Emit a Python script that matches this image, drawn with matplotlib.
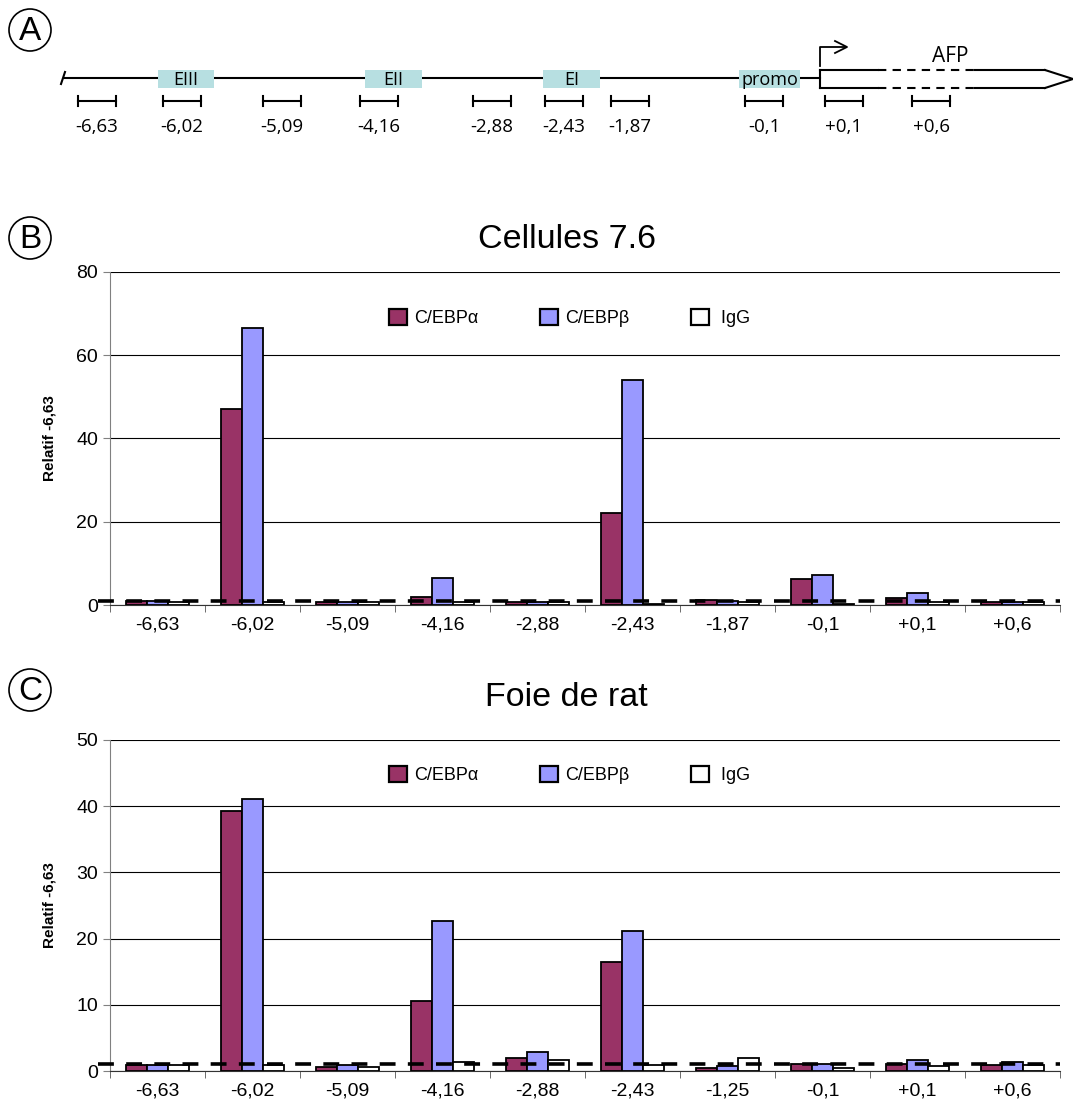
import numpy as np
import matplotlib.pyplot as plt
from matplotlib.patches import Rectangle, Circle, Patch

# ---- data ----
cats_b = ["-6,63", "-6,02", "-5,09", "-4,16", "-2,88", "-2,43", "-1,87", "-0,1", "+0,1", "+0,6"]
alpha_b = [0.9, 47.0, 0.8, 1.9, 0.8, 22.0, 1.2, 6.3, 1.7, 0.7]
beta_b = [1.0, 66.6, 0.8, 6.4, 0.8, 54.1, 1.0, 7.2, 2.9, 0.8]
igg_b = [0.8, 0.7, 0.8, 0.7, 0.8, 0.3, 0.8, 0.3, 0.8, 0.8]

cats_c = ["-6,63", "-6,02", "-5,09", "-4,16", "-2,88", "-2,43", "-1,25", "-0,1", "+0,1", "+0,6"]
alpha_c = [0.9, 39.3, 0.6, 10.5, 2.0, 16.5, 0.5, 1.1, 1.0, 0.9]
beta_c = [0.9, 41.1, 0.9, 22.6, 2.8, 21.2, 0.8, 1.0, 1.6, 1.3]
igg_c = [0.9, 0.9, 0.6, 1.3, 1.7, 0.9, 1.9, 0.5, 0.7, 0.9]

# schematic (panel A), in pixel coordinates of the figure
amplicon_labels = ["-6,63", "-6,02", "-5,09", "-4,16", "-2,88", "-2,43", "-1,87", "-0,1", "+0,1", "+0,6"]
amplicon_left = [78, 163, 263, 360, 473, 545, 611, 745, 825, 912]
elem_labels = ["EIII", "EII", "EI", "promo"]
elem_left = [158, 365, 543, 739]
elem_right = [214, 422, 600, 800]

COL_A = "#993366"
COL_B = "#9999ff"
COL_I = "#ffffff"
W, H = 1073, 1108

fig = plt.figure(figsize=(W / 100, H / 100), dpi=100)
bg = fig.add_axes([0, 0, 1, 1])
bg.set_xlim(0, W)
bg.set_ylim(H, 0)
bg.axis("off")

# circled letters
for letter, cy in [("A", 30), ("B", 238), ("C", 690)]:
    bg.add_patch(Circle((30, cy), 21, fill=False, lw=1.2, ec="black"))
    bg.text(30, cy + 1, letter, ha="center", va="center", fontsize=24,
            family="Liberation Sans")

# ---- panel A: gene map ----
sfont = "Open Sans"
bg.plot([64, 820], [78, 78], color="black", lw=1.5)
bg.plot([61, 65], [84, 72], color="black", lw=1.5)
for lab, xl, xr in zip(elem_labels, elem_left, elem_right):
    bg.add_patch(Rectangle((xl, 70), xr - xl, 18, fc="#b7dfe1", ec="none", zorder=3))
    bg.text((xl + xr) / 2, 80, lab, ha="center", va="center", fontsize=13,
            family=sfont, zorder=4)
# gene body
bg.plot([820, 820], [70, 88], color="black", lw=1.5)
for yy in (70, 88):
    bg.plot([820, 878], [yy, yy], color="black", lw=1.5)
    bg.plot([878, 975], [yy, yy], color="black", lw=1.5, ls=(0, (4, 3)))
    bg.plot([975, 1045], [yy, yy], color="black", lw=1.5)
bg.plot([1045, 1073, 1045], [70, 79, 88], color="black", lw=1.5)
bg.text(950, 56, "AFP", ha="center", va="center", fontsize=15, family=sfont)
# transcription start
bg.plot([820, 820, 846], [66, 47, 47], color="black", lw=1.3)
bg.plot([835, 847, 835], [41, 47, 53], color="black", lw=1.3)
for lab, xl in zip(amplicon_labels, amplicon_left):
    bg.plot([xl, xl + 38], [101, 101], color="black", lw=1.5)
    bg.plot([xl, xl], [96, 106], color="black", lw=1.5)
    bg.plot([xl + 38, xl + 38], [96, 106], color="black", lw=1.5)
    bg.text(xl + 19, 127, lab, ha="center", va="center", fontsize=13.5, family=sfont)


def bar_panel(rect, cats, a, b, i, ymax, step, title, title_y, leg_y):
    ax = fig.add_axes(rect)
    x = np.arange(len(cats))
    w = 0.22
    for off, vals, col in [(-w, a, COL_A), (0, b, COL_B), (w, i, COL_I)]:
        ax.bar(x + off, vals, w, color=col, edgecolor="black", linewidth=1.3, zorder=3)
    ax.axhline(1, color="black", lw=2.6, ls=(0, (4.4, 3.4)), zorder=5,
               xmin=-0.013, xmax=1.0, clip_on=False)
    ax.set_xlim(-0.5, len(cats) - 0.5)
    ax.set_ylim(0, ymax)
    ax.set_yticks(np.arange(0, ymax + 0.1, step))
    ax.set_xticks(x)
    ax.set_xticklabels(cats, family="Liberation Sans", fontsize=14)
    ax.set_xticks(np.arange(-0.5, len(cats)), minor=True)
    ax.tick_params(axis="x", which="major", length=0, pad=8)
    ax.tick_params(axis="x", which="minor", length=5, color="#555555")
    ax.tick_params(axis="y", length=5, color="#808080", labelsize=14)
    for t in ax.get_yticklabels():
        t.set_family("Liberation Sans")
    ax.yaxis.grid(True, color="black", lw=0.8)
    ax.set_axisbelow(True)
    for s in ("top", "right"):
        ax.spines[s].set_visible(False)
    ax.spines["left"].set_color("#808080")
    ax.spines["bottom"].set_color("#333333")
    ax.set_ylabel("Relatif -6,63", fontsize=11, fontweight="bold",
                  family="Liberation Sans", labelpad=14)
    fig.text(0.528, title_y, title, ha="center", va="center", fontsize=24.5,
             family="Liberation Sans")
    handles = [Patch(fc=COL_A, ec="black", lw=1.6, label="C/EBP\u03b1"),
               Patch(fc=COL_B, ec="black", lw=1.6, label="C/EBP\u03b2"),
               Patch(fc=COL_I, ec="black", lw=1.6, label=" IgG")]
    ax.legend(handles=handles, ncol=3, loc="center", bbox_to_anchor=(0.484, leg_y),
              frameon=False, handlelength=1.0, handleheight=1.0, handletextpad=0.4,
              columnspacing=3.4, prop={"family": "Liberation Sans", "size": 13})
    return ax


bar_panel([110 / W, 1 - 605 / H, 950 / W, 333 / H], cats_b, alpha_b, beta_b, igg_b,
          80, 20, "Cellules 7.6", 1 - 240 / H, 0.862)
bar_panel([110 / W, 1 - 1071 / H, 950 / W, 331 / H], cats_c, alpha_c, beta_c, igg_c,
          50, 10, "Foie de rat", 1 - 697 / H, 0.894)

fig.savefig("out.png", dpi=100)
